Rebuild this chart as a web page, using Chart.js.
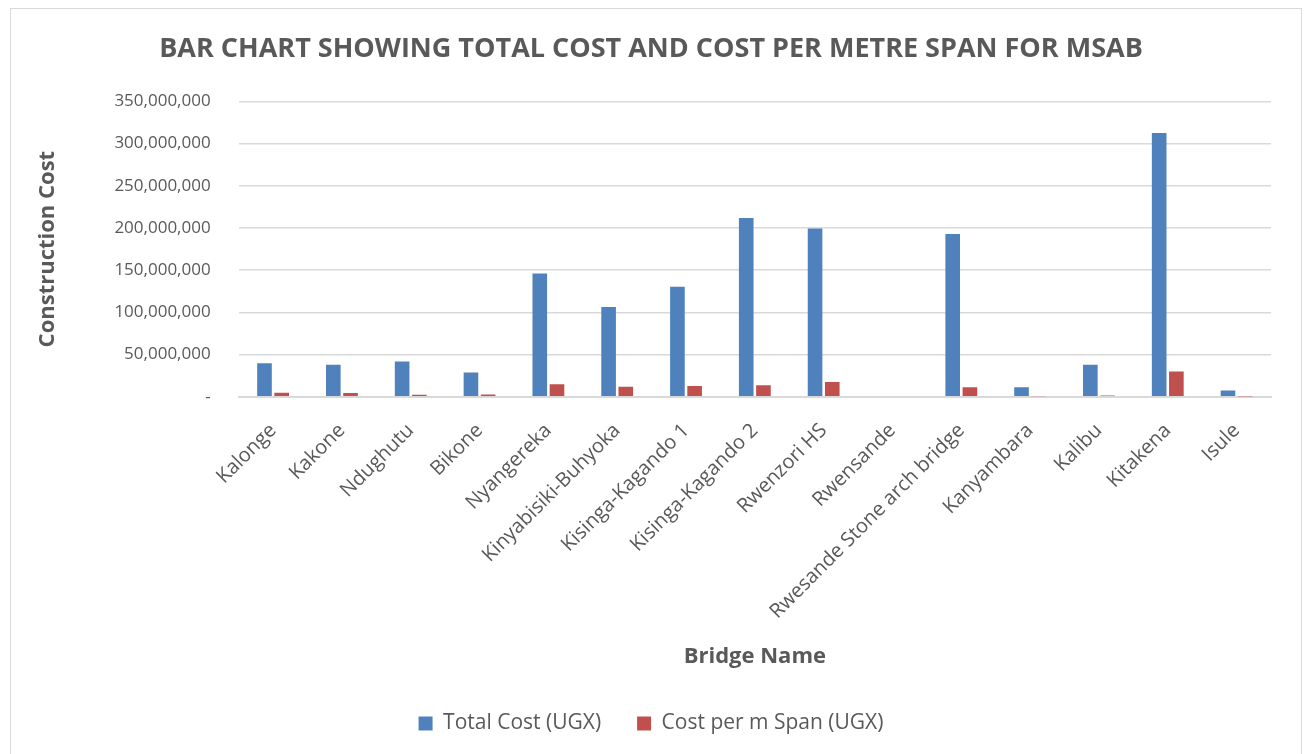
<!DOCTYPE html>
<html>
<head>
<meta charset="utf-8">
<script src="https://cdn.jsdelivr.net/npm/chart.js@4/dist/chart.umd.min.js"></script>
<style>
  html, body { margin: 0; padding: 0; background: #fff; overflow: hidden; }
  #wrap { position: absolute; left: 10px; top: 8px; width: 1292px; height: 752px; border: 1px solid #d9d9d9; box-sizing: border-box; }
  #costChart { display: block; }
</style>
</head>
<body>
<div id="wrap"><canvas id="costChart" width="1290" height="750"></canvas></div>
<script>
// bridge names
var bridges = ['Kalonge', 'Kakone', 'Ndughutu', 'Bikone', 'Nyangereka', 'Kinyabisiki-Buhyoka',
  'Kisinga-Kagando 1', 'Kisinga-Kagando 2', 'Rwenzori HS', 'Rwensande',
  'Rwesande Stone arch bridge', 'Kanyambara', 'Kalibu', 'Kitakena', 'Isule'];

// (UGX)
var totalCost = [39700000, 38000000, 42000000, 28800000, 146000000, 106500000, 130500000,
  212000000, 199500000, 0, 193000000, 11500000, 38000000, 312500000, 7600000];
var costPerSpan = [4800000, 4600000, 2400000, 2800000, 14800000, 12000000, 12700000,
  13600000, 17600000, 0, 11500000, 600000, 1700000, 30000000, 300000];

var yTicks = [0, 50000000, 100000000, 150000000, 200000000, 250000000, 300000000, 350000000];

var grey = '#595959';
var fontFam = "'Open Sans', sans-serif";

var ctx = document.getElementById('costChart').getContext('2d');
var costChart = new Chart(ctx, {
  type: 'bar',
  data: {
    labels: bridges,
    datasets: [{
      label: 'Total Cost (UGX)',
      data: totalCost,
      backgroundColor: '#4f81bd',
      borderWidth: 0,
      categoryPercentage: 0.5,
      barPercentage: 0.85
    }, {
      label: 'Cost per m Span (UGX)',
      data: costPerSpan,
      backgroundColor: '#c0504d',
      borderWidth: 0,
      categoryPercentage: 0.5,
      barPercentage: 0.85
    }]
  },
  options: {
    responsive: false,
    animation: false,
    layout: { padding: { left: 20, right: 30, top: 8, bottom: 15 } },
    plugins: {
      title: {
        display: true,
        text: 'BAR CHART SHOWING TOTAL COST AND COST PER METRE SPAN FOR MSAB',
        color: grey,
        font: { family: fontFam, size: 27, weight: 'bold' },
        padding: { top: 16, bottom: 36 }
      },
      legend: {
        position: 'bottom',
        labels: {
          color: grey,
          font: { family: fontFam, size: 21 },
          boxWidth: 14,
          boxHeight: 14,
          padding: 36
        }
      },
      tooltip: { enabled: false }
    },
    scales: {
      x: {
        grid: { display: false },
        border: { color: '#d9d9d9', width: 2 },
        ticks: {
          color: grey,
          font: { family: fontFam, size: 20 },
          maxRotation: 45,
          minRotation: 45,
          padding: 14
        },
        title: {
          display: true,
          text: 'Bridge Name',
          color: grey,
          font: { family: fontFam, size: 22, weight: 'bold' },
          padding: { top: 6, bottom: 7 }
        }
      },
      y: {
        min: 0,
        max: 350000000,
        afterBuildTicks: function (axis) {
          axis.ticks = yTicks.map(function (v) { return { value: v }; });
        },
        grid: { color: '#d9d9d9', lineWidth: 1.5, drawTicks: false },
        border: { display: false },
        ticks: {
          color: grey,
          font: { family: fontFam, size: 17 },
          padding: 28,
          callback: function (v) { return v === 0 ? '-' : v.toLocaleString('en-US'); }
        },
        title: {
          display: true,
          text: 'Construction Cost',
          color: grey,
          font: { family: fontFam, size: 22, weight: 'bold' },
          padding: { bottom: 25 }
        }
      }
    }
  }
});
</script>
</body>
</html>
